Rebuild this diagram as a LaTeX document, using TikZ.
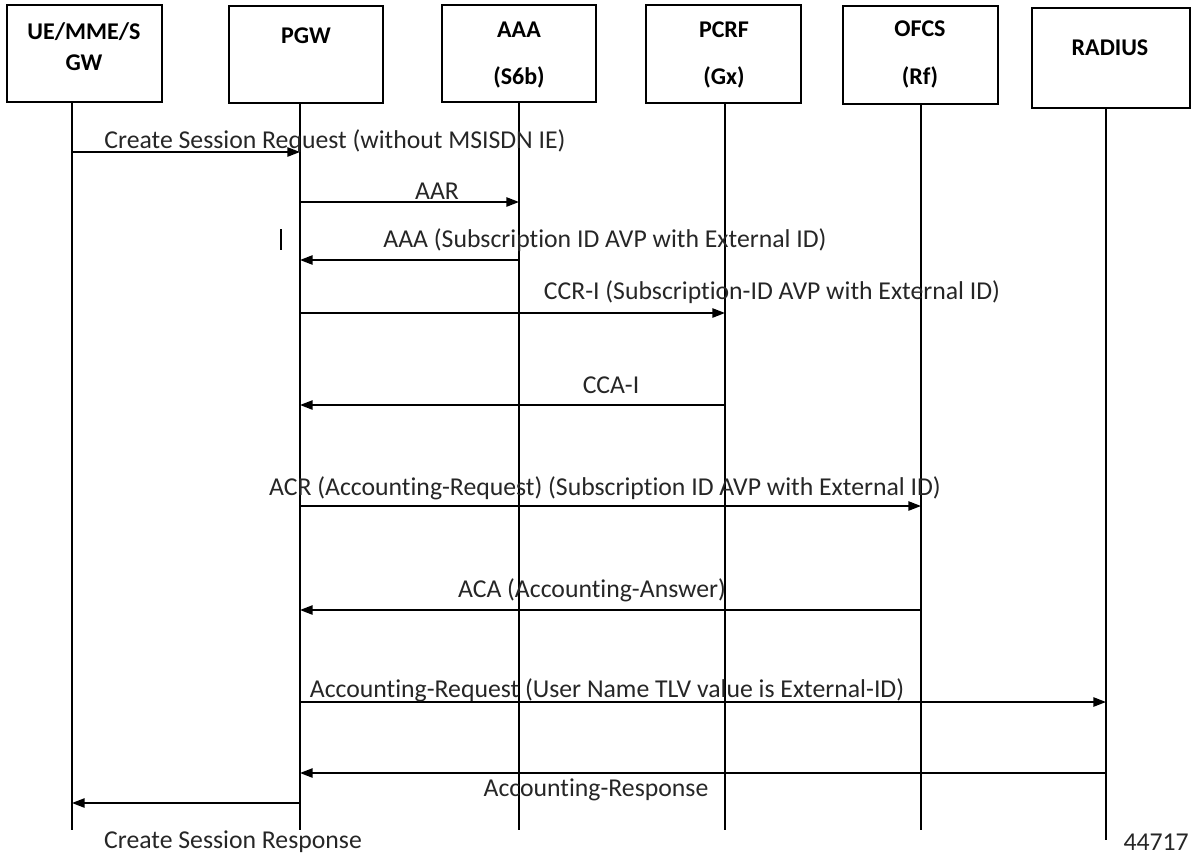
\documentclass[tikz,border=0pt]{standalone}
\usepackage{fontspec}
\setmainfont{Carlito}[Ligatures=NoCommon]
\usetikzlibrary{arrows.meta,positioning,calc}

\begin{document}
\begin{tikzpicture}[x=0.75pt,y=-0.75pt,
  box/.style={draw,line width=1.5pt,minimum width=116pt,minimum height=73pt,inner sep=0pt},
  head/.style={font=\fontsize{18}{20}\selectfont\bfseries,inner sep=0pt},
  life/.style={line width=1.8pt},
  msg/.style={line width=1.2pt,-{Triangle[length=9.5pt,width=7pt]}},
  lbl/.style={font=\fontsize{19.3}{21}\selectfont,text=black!85,inner sep=0pt}]
\useasboundingbox (0,0) rectangle (1191,857);

% entity boxes
\node[box] (ue) at (84.5,53.5) {};
\node[box] (pgw) at (306,54.5) {};
\node[box] (aaa) at (519,53.5) {};
\node[box] (pcrf) at (723.5,54) {};
\node[box] (ofcs) at (920.5,55) {};
\node[box,minimum width=118.5pt,minimum height=75pt] (radius) at (1111,58) {};

\node[head] (ue-t1) at (84,32) {UE/MME/S};
\node[head] (ue-t2) at (84,63) {GW};
\node[head] (pgw-t) at (306,36) {PGW};
\node[head] (aaa-t1) at (519,30) {AAA};
\node[head] (aaa-t2) at (519,77) {(S6b)};
\node[head] (pcrf-t1) at (724,30) {PCRF};
\node[head] (pcrf-t2) at (724,77) {(Gx)};
\node[head] (ofcs-t1) at (920,29) {OFCS};
\node[head] (ofcs-t2) at (920,77) {(Rf)};
\node[head] (radius-t) at (1110,48) {RADIUS};

% lifelines
\coordinate (ueL) at (72,830);
\coordinate (pgwL) at (300,830);
\coordinate (aaaL) at (519,830);
\coordinate (pcrfL) at (725,830);
\coordinate (ofcsL) at (921,830);
\coordinate (radiusL) at (1106,840);
\foreach \n in {ue,pgw,aaa,pcrf,ofcs,radius}
  \draw[life] (\n L |- \n.south) -- (\n L);

% messages
\coordinate (m1) at (0,152);
\coordinate (m2) at (0,202);
\coordinate (m3) at (0,260);
\coordinate (m4) at (0,313);
\coordinate (m5) at (0,405);
\coordinate (m6) at (0,506);
\coordinate (m7) at (0,610);
\coordinate (m8) at (0,702);
\coordinate (m9) at (0,773);
\coordinate (m10) at (0,803);

\draw[msg] (ueL |- m1) -- (pgwL |- m1);
\draw[msg] (pgwL |- m2) -- (aaaL |- m2);
\draw[msg] (aaaL |- m3) -- (pgwL |- m3);
\draw[msg] (pgwL |- m4) -- (pcrfL |- m4);
\draw[msg] (pcrfL |- m5) -- (pgwL |- m5);
\draw[msg] (pgwL |- m6) -- (ofcsL |- m6);
\draw[msg] (ofcsL |- m7) -- (pgwL |- m7);
\draw[msg] (pgwL |- m8) -- (radiusL |- m8);
\draw[msg] (radiusL |- m9) -- (pgwL |- m9);
\draw[msg] (pgwL |- m10) -- (ueL |- m10);

\node[lbl] (l1) at (335,141) {Create Session Request (without MSISDN IE)};
\node[lbl] (l2) at (437,191) {AAR};
\node[lbl] (l3) at (605,240) {AAA (Subscription ID AVP with External ID)};
\node[lbl] (l4) at (772,292) {CCR-I (Subscription-ID AVP with External ID)};
\node[lbl] (l5) at (611,385) {CCA-I};
\node[lbl] (l6) at (605,488) {ACR (Accounting-Request) (Subscription ID AVP with External ID)};
\node[lbl] (l7) at (592,590) {ACA (Accounting-Answer)};
\node[lbl] (l8) at (607,690) {Accounting-Request (User Name TLV value is External-ID)};
\node[lbl] (l9) at (596,790) {Accounting-Response};
\node[lbl] (l10) at (233,842) {Create Session Response};
\node[lbl,anchor=east] (fig) at (1189,842) {44717};

\draw[line width=1pt] (281,229) -- (281,250);
\end{tikzpicture}
\end{document}
